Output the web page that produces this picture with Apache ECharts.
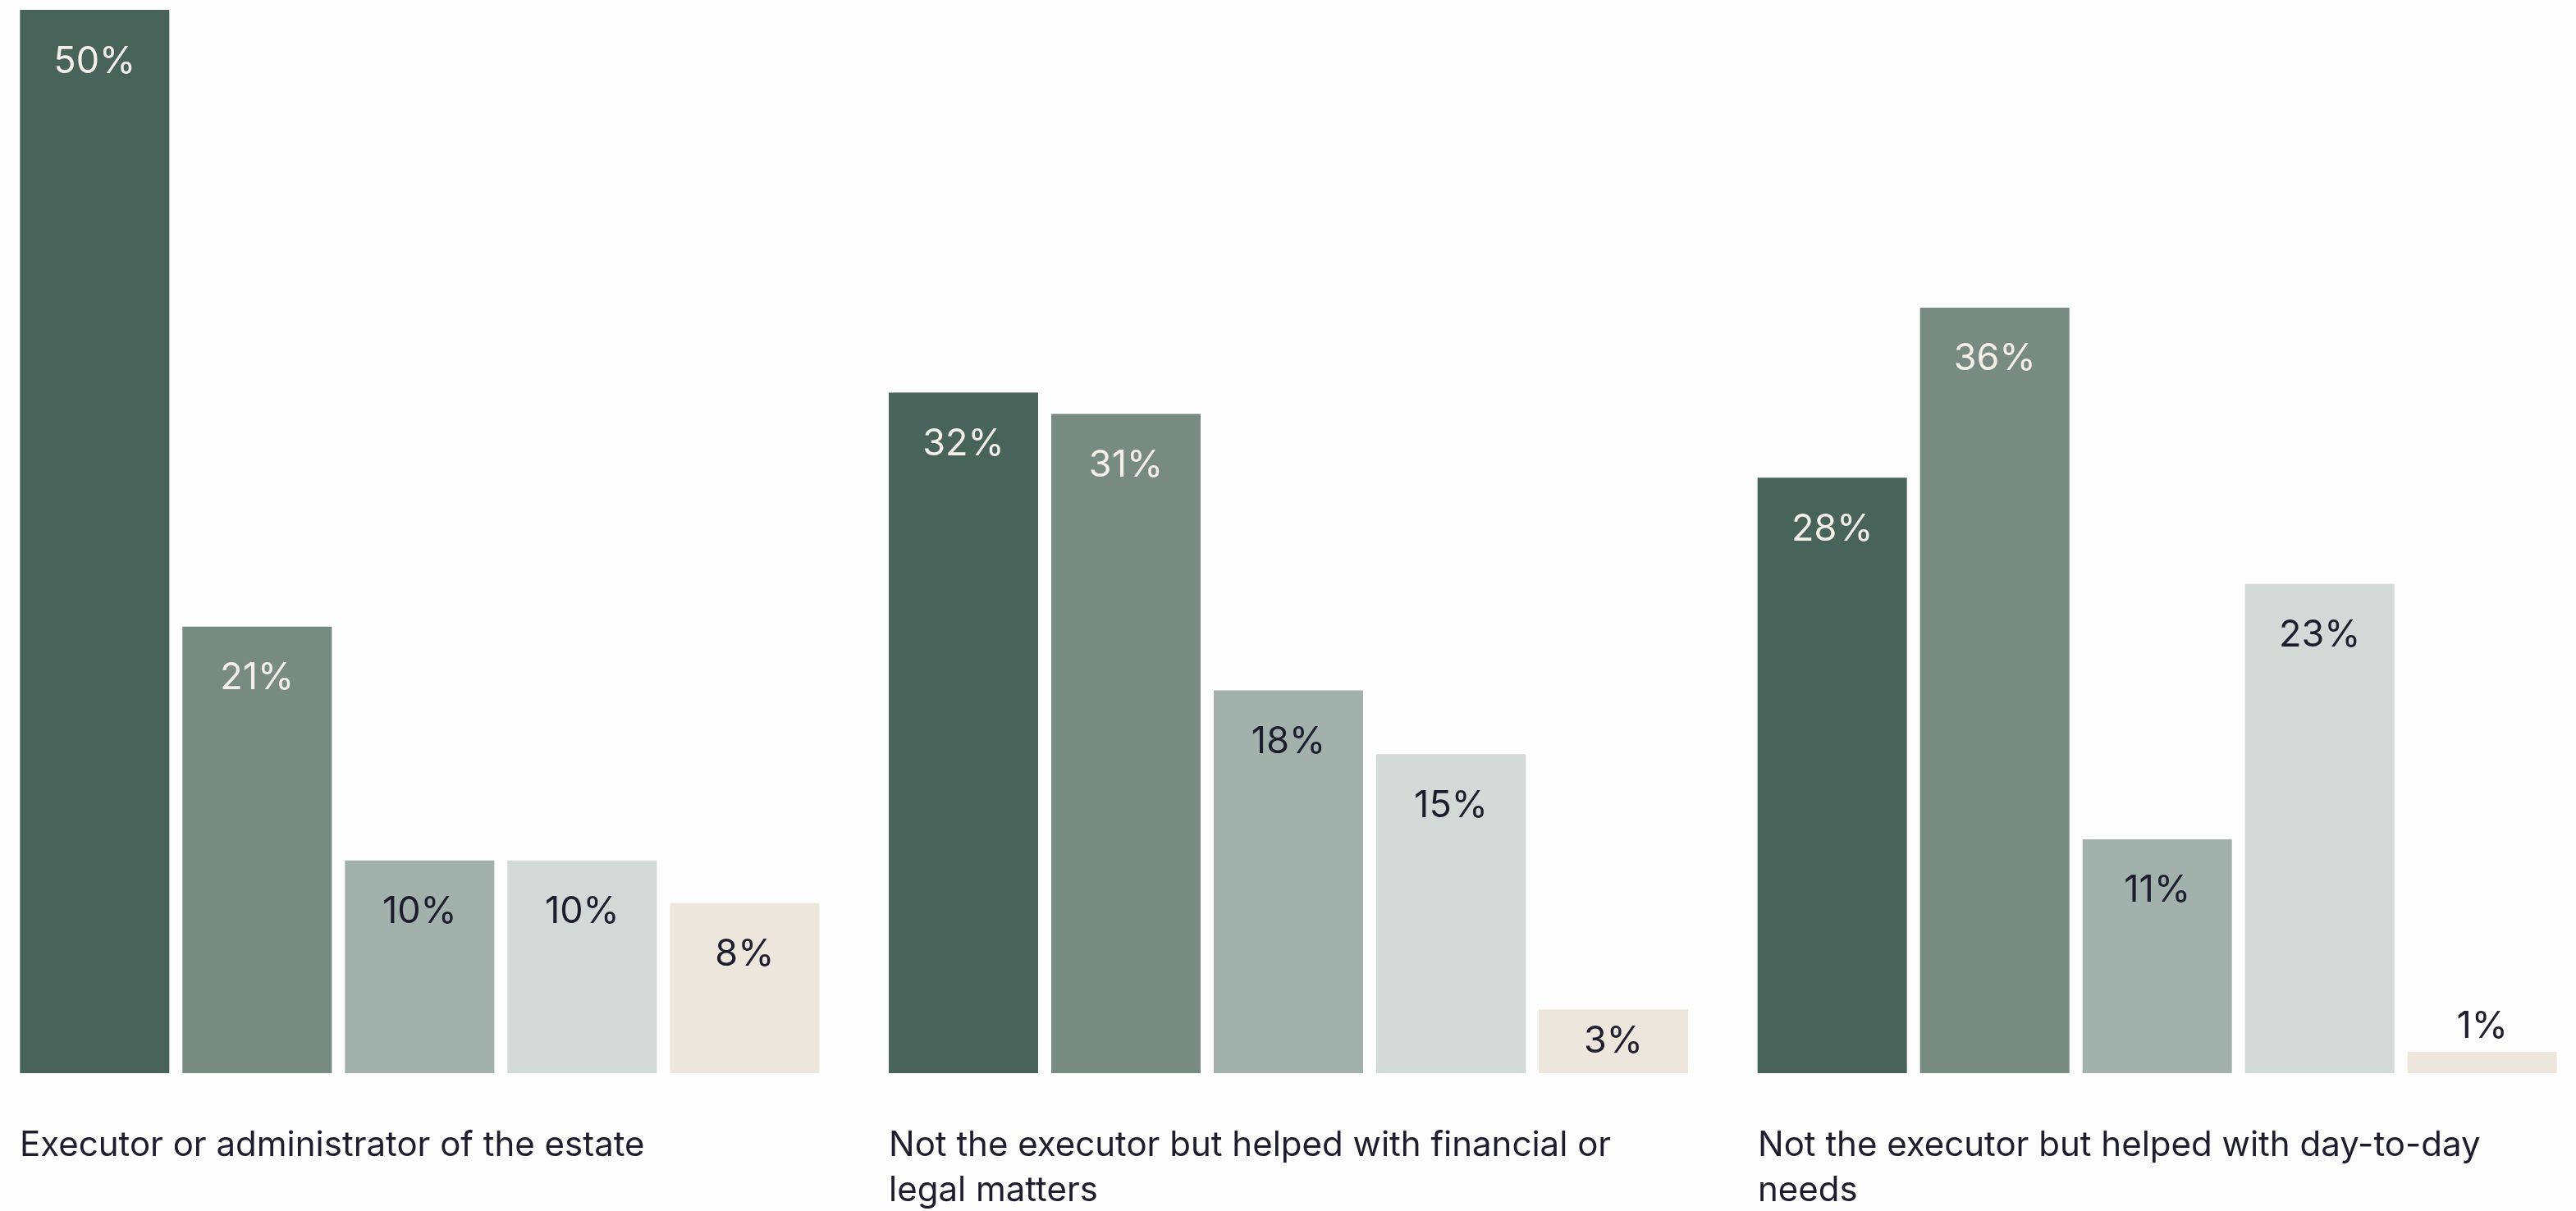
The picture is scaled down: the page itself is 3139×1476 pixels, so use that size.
<!DOCTYPE html>
<html>
<head>
<meta charset="utf-8">
<script src="https://cdn.jsdelivr.net/npm/echarts@6/dist/echarts.min.js"></script>
<style>
  html, body { margin: 0; padding: 0; background: #fdfdfd; overflow: hidden; }
  body { width: 3139px; height: 1476px; position: relative; }
  /* plot spans a little past both window edges so groups sit flush with the margins */
  #chart { position: absolute; left: -18px; top: 0; width: 3176px; height: 1476px; }
</style>
</head>
<body>
<div id="chart"></div>
<script>
// Role in handling the estate
const categories = [
  'Executor or administrator of the estate',
  'Not the executor but helped with financial or legal matters',
  'Not the executor but helped with day-to-day needs'
];

// Share of respondents (%) for each of the five answer groups
const series1 = [50, 32, 28];
const series2 = [21, 31, 36];
const series3 = [10, 18, 11];
const series4 = [10, 15, 23];
const series5 = [8, 3, 1];

const seriesValues = [series1, series2, series3, series4, series5];
const barColors = ['#47635a', '#778b83', '#a3b1ac', '#d3d9d7', '#ede6dd'];
const labelColors = ['#f4efe8', '#f4efe8', '#1e1d2d', '#1e1d2d', '#1e1d2d'];

const BAR_W = 182;
const BAR_GAP = 16;
const FONT = 'Inter, "Noto Sans", sans-serif';

const chart = echarts.init(document.getElementById('chart'));

function labelFor(v, color) {
  // tall bars carry the value near their top; short ones centre it or lift it above
  if (v <= 1) return { position: 'top', distance: 6, color: '#1e1d2d' };
  if (v <= 3) return { position: 'inside', color: color };
  return { position: 'insideTop', distance: 38, color: color };
}

const series = seriesValues.map((vals, si) => ({
  type: 'bar',
  barWidth: BAR_W,
  barGap: (BAR_GAP / BAR_W * 100) + '%',
  itemStyle: { color: barColors[si] },
  label: {
    show: true,
    formatter: '{c}%',
    fontFamily: FONT,
    fontSize: 45,
    lineHeight: 50
  },
  emphasis: { disabled: true },
  data: vals.map(v => ({ value: v, label: labelFor(v, labelColors[si]) }))
}));

chart.setOption({
  backgroundColor: '#fdfdfd',
  animation: false,
  grid: { left: 0, right: 0, top: 12, bottom: 168 },
  xAxis: {
    type: 'category',
    data: categories,
    axisLine: { show: false },
    axisTick: { show: false },
    axisLabel: { show: false }
  },
  yAxis: {
    type: 'value',
    min: 0,
    max: 50,
    show: false,
    splitLine: { show: false }
  },
  series: series
});

// Category captions, left-aligned under each group of bars
const groupW = seriesValues.length * BAR_W + (seriesValues.length - 1) * BAR_GAP;
const baseY = chart.convertToPixel({ yAxisIndex: 0 }, 0);
chart.setOption({
  graphic: categories.map((c, i) => {
    const cx = chart.convertToPixel({ xAxisIndex: 0 }, c);
    return {
      type: 'text',
      left: Math.round(cx - groupW / 2),
      top: baseY + 61,
      style: {
        text: c,
        width: 930,
        overflow: 'break',
        font: '42px ' + FONT,
        lineHeight: 55,
        fill: '#1e1d2d'
      }
    };
  })
});
</script>
</body>
</html>
